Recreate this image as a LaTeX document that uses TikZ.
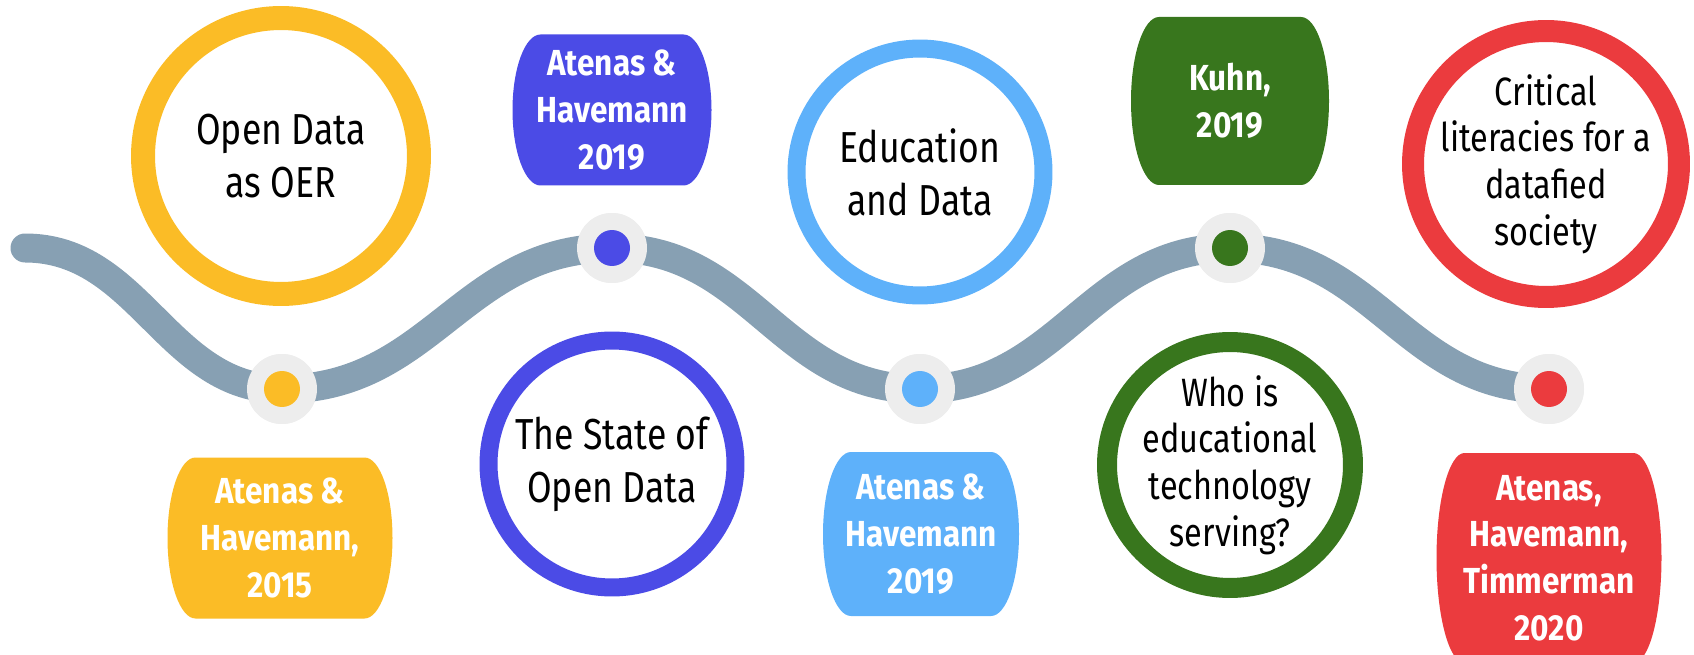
\documentclass[tikz,border=0pt]{standalone}
\usepackage{fontspec}
\setmainfont{Fira Sans}[FakeStretch=0.82, BoldFeatures={FakeStretch=0.87}]
\definecolor{yel}{HTML}{FBBC26}
\definecolor{blu}{HTML}{4B4BE6}
\definecolor{lblu}{HTML}{5EB1FA}
\definecolor{grn}{HTML}{38761D}
\definecolor{rd}{HTML}{EB3B3E}
\definecolor{trackgrey}{HTML}{87A0B3}
\definecolor{halogrey}{HTML}{EDEDED}

% Date badge: flat top and bottom, half-ellipse sides (28 units deep)
% #1,#2 centre, #3 width, #4 height, #5 colour, #6 node name, #7 text
\newcommand\datebadge[7]{%
  \fill[#5] ({#1-#3/2+28},{#2-#4/2}) -- ({#1+#3/2-28},{#2-#4/2})
    .. controls ({#1+#3/2-12.5},{#2-#4/2}) and ({#1+#3/2},{#2-0.276*#4}) .. ({#1+#3/2},{#2})
    .. controls ({#1+#3/2},{#2+0.276*#4}) and ({#1+#3/2-12.5},{#2+#4/2}) .. ({#1+#3/2-28},{#2+#4/2})
    -- ({#1-#3/2+28},{#2+#4/2})
    .. controls ({#1-#3/2+12.5},{#2+#4/2}) and ({#1-#3/2},{#2+0.276*#4}) .. ({#1-#3/2},{#2})
    .. controls ({#1-#3/2},{#2-0.276*#4}) and ({#1-#3/2+12.5},{#2-#4/2}) .. cycle;
  \node[badgetext] (#6) at (#1,#2) {#7};}

\begin{document}
\begin{tikzpicture}[x=0.02cm,y=-0.02cm,
  track/.style={draw=trackgrey, line width=0.58cm, line cap=round},
  ring/.style={circle, draw=#1, inner sep=0pt},
  topic/.style={align=center, font=\fontsize{24.7}{30}\selectfont, text=black},
  longtopic/.style={align=center, font=\fontsize{22.5}{26.6}\selectfont, text=black},
  badgetext/.style={align=center, font=\fontsize{20.6}{26.6}\selectfont\bfseries, text=white},
  halo/.style={circle, fill=halogrey, minimum size=1.4cm, inner sep=0pt},
  dotc/.style={circle, fill=#1, minimum size=0.72cm, inner sep=0pt}]
\useasboundingbox (0,0) rectangle (1694,655);

% milestones on the track
\coordinate (c0) at (25,248);
\node[halo] (h1) at (282,389) {};
\node[halo] (h2) at (612,248) {};
\node[halo] (h3) at (920,389) {};
\node[halo] (h4) at (1230,248) {};
\node[halo] (h5) at (1549,389) {};

% the wavy track
\draw[track] (c0) .. controls +(115,0) and +(-115,0) .. (h1.center)
  .. controls +(150,0) and +(-150,0) .. (h2.center)
  .. controls +(140,0) and +(-140,0) .. (h3.center)
  .. controls +(140,0) and +(-140,0) .. (h4.center)
  .. controls +(145,0) and +(-145,0) .. (h5.center);

\node[halo] at (h1) {};
\node[halo] at (h2) {};
\node[halo] at (h3) {};
\node[halo] at (h4) {};
\node[halo] at (h5) {};
\node[dotc=yel] (d1) at (h1) {};
\node[dotc=blu] (d2) at (h2) {};
\node[dotc=lblu] (d3) at (h3) {};
\node[dotc=grn] (d4) at (h4) {};
\node[dotc=rd] (d5) at (h5) {};

% topic rings
\node[ring=yel, line width=0.48cm, minimum size=5.52cm] (r1) at (281,156) {};
\node[ring=blu, line width=0.36cm, minimum size=4.94cm] (r2) at (612,464) {};
\node[ring=lblu, line width=0.36cm, minimum size=4.94cm] (r3) at (920,172) {};
\node[ring=grn, line width=0.40cm, minimum size=4.92cm] (r4) at (1230,465) {};
\node[ring=rd, line width=0.44cm, minimum size=5.32cm] (r5) at (1546,164) {};

\node[topic] (t1) at (r1) {Open Data\\as OER};
\node[topic] (t2) at (r2) {The State of\\Open Data};
\node[topic] (t3) at (r3) {Education\\and Data};
\node[longtopic] (t4) at (r4) {Who is\\educational\\technology\\serving?};
\node[longtopic] (t5) at (r5) {Critical\\literacies for a\\datafied\\society};

% reference badges
\datebadge{280}{538}{225}{161}{yel}{b1}{Atenas \&\\Havemann,\\2015}
\datebadge{612}{110}{199}{151}{blu}{b2}{Atenas \&\\Havemann\\2019}
\datebadge{921}{534}{196}{164}{lblu}{b3}{Atenas \&\\Havemann\\2019}
\datebadge{1230}{101}{198}{168}{grn}{b4}{Kuhn,\\2019}
\datebadge{1549}{558}{225}{210}{rd}{b5}{Atenas,\\Havemann,\\Timmerman\\2020}
\end{tikzpicture}
\end{document}
